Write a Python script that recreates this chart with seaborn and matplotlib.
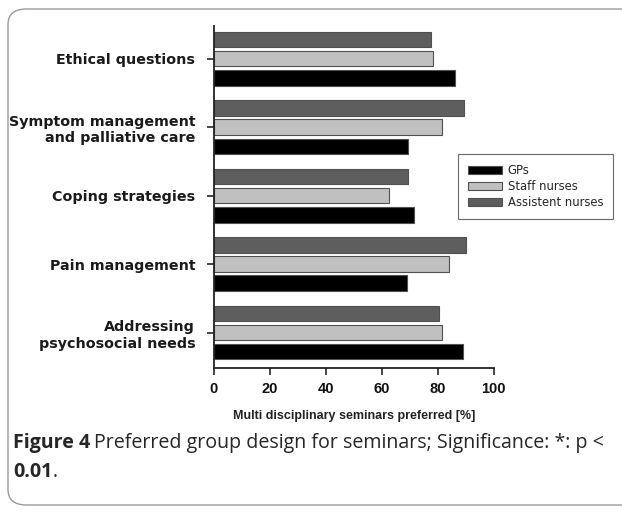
import matplotlib
matplotlib.use("Agg")
import matplotlib.pyplot as plt
import seaborn as sns
import pandas as pd
from matplotlib.patches import FancyBboxPatch, Patch

categories = ["Ethical questions", "Symptom management\nand palliative care",
              "Coping strategies", "Pain management",
              "Addressing\npsychosocial needs"]
groups = ["GPs", "Staff nurses", "Assistent nurses"]
gps = [86.1, 69.5, 71.6, 69.1, 89.0]
staff = [78.2, 81.5, 62.6, 84.1, 81.5]
assistent = [77.5, 89.2, 69.4, 90.0, 80.3]
colors = {"GPs": "#000000", "Staff nurses": "#c0c0c0", "Assistent nurses": "#5e5e5e"}

df = pd.DataFrame({
    "category": categories * 3,
    "group": [g for g in groups for _ in categories],
    "value": gps + staff + assistent,
})

sns.set_style("ticks")
plt.rcParams["font.family"] = ["Liberation Sans", "DejaVu Sans"]

fig = plt.figure(figsize=(6.22, 5.12), dpi=100)
ax = fig.add_axes([0.344, 0.281, 0.45, 0.668])

# assistent on top of each group, GPs at the bottom
sns.barplot(data=df, y="category", x="value", hue="group",
            hue_order=["Assistent nurses", "Staff nurses", "GPs"],
            order=categories, palette=colors, orient="h",
            width=0.84, gap=0.19, edgecolor="#505050", linewidth=0.8,
            legend=False, ax=ax)

ax.set_xlim(0, 100)
ax.set_ylim(4.52, -0.475)
ax.set_xticks([0, 20, 40, 60, 80, 100])
ax.set_xlabel("Multi disciplinary seminars preferred [%]", fontsize=9.0,
              fontweight="bold", labelpad=10, color="#222222")
ax.set_ylabel("")
ax.tick_params(axis="x", length=5, width=1.2, labelsize=10.5, pad=5)
ax.tick_params(axis="y", length=5, width=1.2, pad=8.5)
for lab in ax.get_xticklabels():
    lab.set_fontweight("bold")
    lab.set_color("#111111")
for lab in ax.get_yticklabels():
    lab.set_family(["DejaVu Sans"])
    lab.set_fontweight("bold")
    lab.set_fontsize(10.3)
    lab.set_color("#1a1a1a")
    lab.set_multialignment("right")
    lab.set_linespacing(1.25)
sns.despine(ax=ax)
for s in ["left", "bottom"]:
    ax.spines[s].set_linewidth(1.3)
    ax.spines[s].set_color("#222222")

handles = [Patch(facecolor=colors[g], edgecolor="#505050", linewidth=0.8) for g in groups]
leg = fig.legend(handles, groups, loc="upper left",
                 bbox_to_anchor=(458 / 622, 1 - 154 / 512),
                 bbox_transform=fig.transFigure,
                 frameon=True, fancybox=False,
                 prop={"family": "DejaVu Sans", "size": 8.4},
                 handlelength=2.9, handleheight=0.7, labelspacing=0.25,
                 handletextpad=0.5, borderpad=0.85, borderaxespad=0)
leg.get_frame().set_edgecolor("#444444")
leg.get_frame().set_linewidth(0.8)

# rounded panel around the figure
box = FancyBboxPatch((8 / 622, 7 / 512), 640 / 622, 496 / 512,
                     boxstyle="round,pad=0,rounding_size=0.03",
                     transform=fig.transFigure, facecolor="none",
                     edgecolor="#9a9a9a", linewidth=1.0, clip_on=False)
fig.add_artist(box)

cap_font = ["Open Sans", "DejaVu Sans"]
cap_size = 14.1
t1 = fig.text(13 / 622, 1 - 443 / 512, "Figure 4", fontsize=cap_size, fontweight="bold",
              family=cap_font, va="center")
fig.canvas.draw()
bb = t1.get_window_extent()
fig.text(bb.x1 / 622 + 4 / 622, 1 - 443 / 512,
         "Preferred group design for seminars; Significance: *: p <",
         fontsize=cap_size, family=cap_font, va="center")
t3 = fig.text(13 / 622, 1 - 472 / 512, "0.01", fontsize=cap_size, fontweight="bold",
              family=cap_font, va="center")
fig.canvas.draw()
bb3 = t3.get_window_extent()
fig.text(bb3.x1 / 622, 1 - 472 / 512, ".", fontsize=cap_size, family=cap_font, va="center")

fig.savefig("out.png", dpi=100)
